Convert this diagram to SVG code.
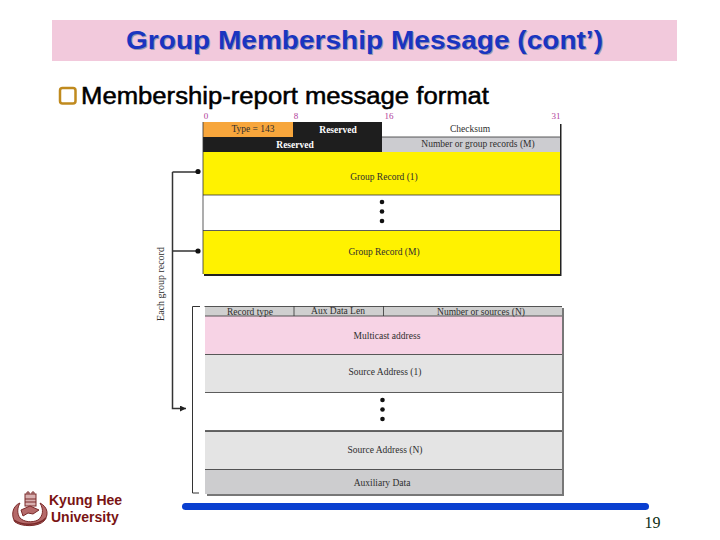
<svg xmlns="http://www.w3.org/2000/svg" width="720" height="540" viewBox="0 0 720 540">
<defs>
<style>
.t{font-family:"Liberation Serif",serif;font-size:9.500px;fill:#2e2e2e;text-anchor:middle}
.w{font-family:"Liberation Serif",serif;font-size:9.500px;font-weight:bold;fill:#fff;text-anchor:middle}
.n{font-family:"Liberation Serif",serif;font-size:9px;fill:#b0409a;text-anchor:middle}
.l{stroke:#333;stroke-width:1;fill:none}
.c{stroke:#333;stroke-width:1.500;fill:none}
.k{font-family:"Liberation Sans",sans-serif;font-size:14px;font-weight:bold;fill:#7a1414}
.d{fill:#111}
</style>
<marker id="arr" markerUnits="userSpaceOnUse" markerWidth="7" markerHeight="7" refX="6" refY="3" orient="auto"><path d="M0,0L6,3L0,6Z" fill="#222"/></marker>
</defs>
<rect width="720" height="540" fill="#fff"/>
<g id="title">
<rect x="52" y="20" width="625" height="41" fill="#f2c9dc"/>
<text x="127" y="50" textLength="477" lengthAdjust="spacingAndGlyphs" font-family="Liberation Sans,sans-serif" font-size="25" font-weight="bold" fill="#9a9ab0">Group Membership Message (cont’)</text>
<text x="126" y="49" textLength="477" lengthAdjust="spacingAndGlyphs" font-family="Liberation Sans,sans-serif" font-size="25" font-weight="bold" fill="#1a35c0">Group Membership Message (cont’)</text>
</g>
<g id="heading">
<rect x="60" y="88" width="15.500" height="15.500" rx="2.500" fill="#fff" stroke="#c08a1e" stroke-width="2.500"/>
<text x="81" y="104" textLength="408" lengthAdjust="spacingAndGlyphs" font-family="Liberation Sans,sans-serif" font-size="23" fill="#000" stroke="#000" stroke-width=".5">Membership-report message format</text>
</g>
<g id="bit-numbers">
<text class="n" x="206" y="119">0</text>
<text class="n" x="296" y="119">8</text>
<text class="n" x="389" y="119">16</text>
<text class="n" x="556" y="119">31</text>
</g>
<g id="group-records-table">
<rect x="204" y="124" width="357.500" height="152" fill="#222"/>
<rect x="203" y="122" width="90" height="15" fill="#f7a63c"/>
<rect x="293" y="122" width="89" height="15" fill="#1e1e1e"/>
<rect x="382" y="122" width="178" height="15" fill="#fff"/>
<rect x="203" y="137" width="179" height="15" fill="#1e1e1e"/>
<rect x="382" y="137" width="178" height="15" fill="#ccccd0"/>
<rect x="203" y="152" width="357" height="43" fill="#fff200"/>
<rect x="203" y="195" width="357" height="36" fill="#fff"/>
<rect x="203" y="231" width="357" height="43" fill="#fff200"/>
<path class="l" d="M382 137H560M203 195H560M203 230.500H560M203 122V274" stroke-opacity=".8"/>
<text class="t" x="253" y="132">Type = 143</text>
<text class="w" x="338" y="133">Reserved</text>
<text class="t" x="470" y="132">Checksum</text>
<text class="w" x="295" y="148">Reserved</text>
<text class="t" x="478" y="147">Number or group records (M)</text>
<text class="t" x="384" y="180">Group Record (1)</text>
<text class="t" x="384" y="255">Group Record (M)</text>
<circle class="d" cx="382" cy="202" r="2.300"/><circle class="d" cx="382" cy="211.500" r="2.300"/><circle class="d" cx="382" cy="221" r="2.300"/>
</g>
<g id="record-detail-table">
<rect x="207" y="308" width="357" height="188" fill="#777"/>
<rect x="205" y="306" width="357" height="10" fill="#cfcfcf"/>
<rect x="205" y="316" width="357" height="38" fill="#f7d3e5"/>
<rect x="205" y="354" width="357" height="38" fill="#e4e4e4"/>
<rect x="205" y="392" width="357" height="39" fill="#fff"/>
<rect x="205" y="431" width="357" height="38" fill="#e4e4e4"/>
<rect x="205" y="469" width="357" height="25" fill="#cdcdcf"/>
<path class="l" d="M204.500 306.500H562M205 316H562M205 354.500H562M205 392.500H562M205 469.500H562M294 306V316M383.500 306V316" stroke-opacity=".8"/>
<path d="M205 431H562" stroke="#333" stroke-width="1.600"/>
<text class="t" x="250" y="315">Record type</text>
<text class="t" x="338" y="314">Aux Data Len</text>
<text class="t" x="481" y="315">Number or sources (N)</text>
<text class="t" x="387" y="339">Multicast address</text>
<text class="t" x="385" y="375">Source Address (1)</text>
<text class="t" x="385" y="453">Source Address (N)</text>
<text class="t" x="382" y="486">Auxiliary Data</text>
<circle class="d" cx="382.500" cy="400" r="2.300"/><circle class="d" cx="382.500" cy="409.500" r="2.300"/><circle class="d" cx="382.500" cy="419" r="2.300"/>
</g>
<g id="connectors">
<path class="c" d="M172.500 172H198M172.500 251H198M172.500 172V408.500H186" marker-end="url(#arr)"/>
<circle class="d" cx="198" cy="171.500" r="2.600"/><circle class="d" cx="198" cy="251" r="2.600"/>
<path class="l" d="M200 306.500H192.500V493H199"/>
</g>
<text id="side-label" transform="translate(164,284) rotate(-90)" class="t" style="font-size:10px">Each group record</text>
<g id="logo" fill="#b56a6a" stroke="#7a2a2a">
<rect x="25" y="494" width="11" height="12" stroke-width="1" fill="#d8b0b0"/>
<path d="M27 494v-2h2v2M32 494v-2h2v2M25 499h11M25 502h11" fill="none" stroke-width="1"/>
<path d="M20 503C12 506 11 516 15 522C22 527 38 527 44 521C49 515 48 507 40 503C44 510 43 516 38 520C32 523 24 522 20 518C17 514 17 508 20 503Z" stroke-width="1"/>
<path d="M21 510L30 506L39 510L33 514L28 513L23 516Z" stroke-width="1"/>
<path d="M14 520C22 526 38 526 46 518" fill="none" stroke-width="1.500"/>
</g>
<text class="k" x="49" y="505">Kyung Hee</text>
<text class="k" x="51" y="522">University</text>
<path id="footer-bar" d="M185.500 506.500H645.500" stroke="#0a3fd0" stroke-width="7" stroke-linecap="round"/>
<text id="page-number" x="652.500" y="528" font-family="Liberation Serif,serif" font-size="16" fill="#0e2e14" text-anchor="middle">19</text>
</svg>
